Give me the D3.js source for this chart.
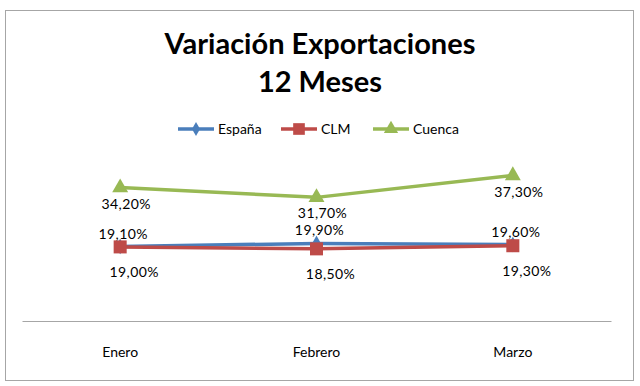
<!DOCTYPE html>
<html>
<head>
<meta charset="utf-8">
<script src="https://cdnjs.cloudflare.com/ajax/libs/d3/7.8.5/d3.min.js"></script>
<style>
  body { margin: 0; background: #fff; }
  svg { font-family: Lato, "Open Sans", sans-serif; }
</style>
</head>
<body>
<div class="chart"></div>
<script>
// data
const months = ['Enero', 'Febrero', 'Marzo'];
const espana = [19.1, 19.9, 19.6];
const clm = [19.0, 18.5, 19.3];
const cuenca = [34.2, 31.7, 37.3];
const seriesNames = ['España', 'CLM', 'Cuenca'];

const fmt = v => d3.format('.2f')(v).replace('.', ',') + '%';

let width = 640, height = 386;
let margin = { top: 165, right: 29, bottom: 65, left: 22 };

let svg = d3.select('.chart').append('svg')
  .attr('width', width)
  .attr('height', height);

// chart border
svg.append('rect')
  .attr('x', 5.5).attr('y', 10.5)
  .attr('width', 628).attr('height', 370)
  .attr('fill', '#fff')
  .attr('stroke', '#a6a6a6');

svg.append('text')
  .attr('x', 320).attr('y', 54)
  .attr('text-anchor', 'middle')
  .attr('font-weight', 'bold')
  .attr('font-size', 29)
  .text('Variación Exportaciones');
svg.append('text')
  .attr('x', 320).attr('y', 92)
  .attr('text-anchor', 'middle')
  .attr('font-weight', 'bold')
  .attr('font-size', 29)
  .text('12 Meses');

let x = d3.scaleBand()
  .domain(months)
  .range([margin.left, width - margin.right]);

let y = d3.scaleLinear()
  .domain([0, 40])
  .range([height - margin.bottom, margin.top]);

let g = svg.append('g');

// category axis
let xAxis = g.append('g')
  .attr('transform', 'translate(0,' + (height - margin.bottom) + ')')
  .call(d3.axisBottom(x).tickSize(0).tickPadding(26));
xAxis.select('.domain').attr('stroke', '#a6a6a6');
xAxis.selectAll('text')
  .attr('font-size', 14)
  .attr('font-family', 'Lato, sans-serif')
  .attr('fill', '#000');

const series = [
  { name: seriesNames[0], values: espana, color: '#4a7ebb', symbol: d3.symbolDiamond, size: 70, ldx: 3, ldy: -8 },
  { name: seriesNames[1], values: clm, color: '#be4b48', symbol: d3.symbolSquare, size: 170, ldx: 14, ldy: 30 },
  { name: seriesNames[2], values: cuenca, color: '#98b954', symbol: d3.symbolTriangle, size: 110, ldx: 6, ldy: 21 }
];

let line = d3.line()
  .x((d, i) => x(months[i]) + x.bandwidth() / 2)
  .y(d => y(d));

// draw cuenca first, then españa, then clm on top
[series[2], series[0], series[1]].forEach(s => {
  g.append('path')
    .datum(s.values)
    .attr('d', line)
    .attr('fill', 'none')
    .attr('stroke', s.color)
    .attr('stroke-width', 3.5)
    .attr('stroke-linejoin', 'round');

  g.selectAll(null)
    .data(s.values)
    .join('path')
    .attr('d', d3.symbol().type(s.symbol).size(s.size))
    .attr('transform', (d, i) => 'translate(' + (x(months[i]) + x.bandwidth() / 2) + ',' + y(d) + ')')
    .attr('fill', s.color);
});

series.forEach(s => {
  g.selectAll(null)
    .data(s.values)
    .join('text')
    .attr('x', (d, i) => x(months[i]) + x.bandwidth() / 2 + s.ldx)
    .attr('y', d => y(d) + s.ldy)
    .attr('text-anchor', 'middle')
    .attr('font-size', 14)
    .attr('letter-spacing', 0.4)
    .text(d => fmt(d));
});

// legend
let legend = svg.append('g').attr('transform', 'translate(0,129)');
const legendX = [178, 281, 373];
series.forEach((s, i) => {
  let lg = legend.append('g').attr('transform', 'translate(' + legendX[i] + ',0)');
  lg.append('line')
    .attr('x1', 0).attr('x2', 36)
    .attr('stroke', s.color).attr('stroke-width', 3.5);
  lg.append('path')
    .attr('d', d3.symbol().type(s.symbol).size(s.size * 0.8))
    .attr('transform', 'translate(18,0)')
    .attr('fill', s.color);
  lg.append('text')
    .attr('x', 40).attr('y', 5)
    .attr('font-size', 14)
    .text(s.name);
});
</script>
</body>
</html>
